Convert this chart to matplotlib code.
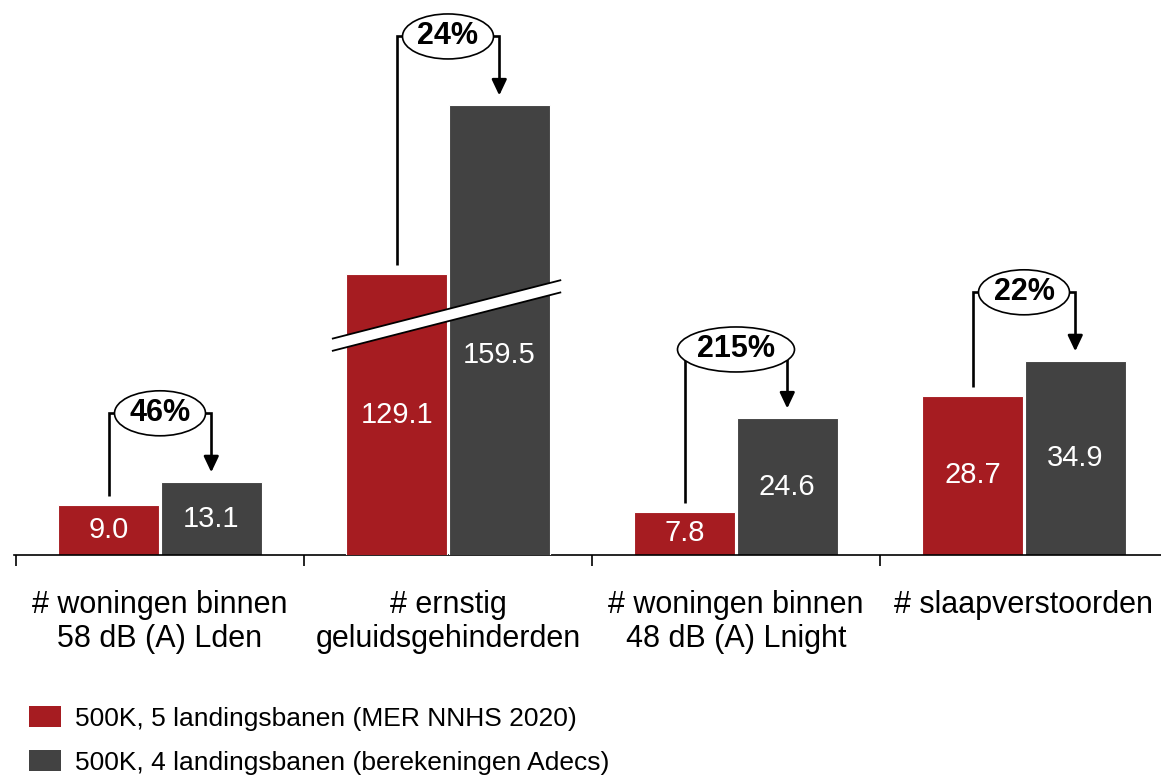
import matplotlib
matplotlib.use("Agg")
import matplotlib.pyplot as plt
import matplotlib.transforms as mtransforms
from matplotlib.patches import Ellipse, Patch, Polygon
import numpy as np

plt.rcParams['font.family'] = ['Liberation Sans', 'DejaVu Sans']

# ---------------- data ----------------
categories = ["# woningen binnen\n58 dB (A) Lden",
              "# ernstig\ngeluidsgehinderden",
              "# woningen binnen\n48 dB (A) Lnight",
              "# slaapverstoorden"]
series_names = ["500K, 5 landingsbanen (MER NNHS 2020)",
                "500K, 4 landingsbanen (berekeningen Adecs)"]
values_5 = [9.0, 129.1, 7.8, 28.7]
values_4 = [13.1, 159.5, 24.6, 34.9]
pct_labels = ["46%", "24%", "215%", "22%"]
broken_group = 1          # category drawn on a broken (offset) axis
break_offset = 78.5       # amount of axis removed by the break

# ---------------- style ----------------
RED = "#A61C21"
GREY = "#424242"
W, H, DPI = 1161, 778, 100
AX_LEFT_PX, AX_BASE_PX = 14, 555
GROUP_PX = 288.0
YSPAN = 100.0
PX = AX_BASE_PX / YSPAN          # pixels per data unit
BAR_W = 0.35
OFF = 0.178

fig = plt.figure(figsize=(W / DPI, H / DPI), dpi=DPI)
rect = [AX_LEFT_PX / W, (H - AX_BASE_PX) / H, (W - AX_LEFT_PX) / W, AX_BASE_PX / H]
ax = fig.add_axes(rect)
ax2 = fig.add_axes(rect, sharex=ax)

x = np.arange(len(categories))
xmin = (AX_LEFT_PX - 160) / GROUP_PX
xmax = xmin + (W - AX_LEFT_PX) / GROUP_PX
ax.set_xlim(xmin, xmax)
ax.set_ylim(0, YSPAN)
ax2.set_ylim(break_offset, break_offset + YSPAN)
ax2.axis("off")
ax2.patch.set_visible(False)

v5 = np.array(values_5)
v4 = np.array(values_4)
normal = np.array([i for i in range(len(categories)) if i != broken_group])
brk = np.array([broken_group])

for a, idx in ((ax, normal), (ax2, brk)):
    a.bar(x[idx] - OFF, v5[idx], BAR_W, color=RED, edgecolor="white", linewidth=0.8, zorder=2)
    a.bar(x[idx] + OFF, v4[idx], BAR_W, color=GREY, edgecolor="white", linewidth=0.8, zorder=2)

# axes styling
for s in ("top", "left", "right"):
    ax.spines[s].set_visible(False)
ax.spines["bottom"].set_linewidth(1.2)
ax.set_yticks([])
ax.set_xticks(x)
ax.set_xticklabels(categories, fontsize=22, linespacing=1.2)
ax.tick_params(axis="x", which="major", length=0, pad=25)
ax.set_xticks(x[:] - 0.5, minor=True)
ax.tick_params(axis="x", which="minor", length=8, width=1.2, direction="out")

# axis-break decoration across the broken group (drawn on top axes, main-axis coords)
bx0, bx1 = broken_group - 0.40, broken_group + 0.39
by0, by1 = 37.9, 48.4
half = 1.1
band = Polygon([(bx0, by0 - half), (bx1, by1 - half), (bx1, by1 + half), (bx0, by0 + half)],
               closed=True, facecolor="white", edgecolor="none", zorder=4,
               transform=ax.transData)
ax2.add_patch(band)
ax2.plot([bx0, bx1], [by0 - half, by1 - half], color="black", lw=1.3, zorder=5,
         transform=ax.transData)
ax2.plot([bx0, bx1], [by0 + half, by1 + half], color="black", lw=1.3, zorder=5,
         transform=ax.transData)

# value labels and change annotations
for i in range(len(categories)):
    a = ax2 if i == broken_group else ax
    base = break_offset if i == broken_group else 0.0
    r, g = v5[i], v4[i]
    a.text(x[i] - OFF, (base + r) / 2, f"{r:.1f}", color="white", fontsize=21,
           ha="center", va="center", zorder=6)
    tr = a.transData
    if i == broken_group:
        # keep the label clear of the axis break
        tr = a.transData + mtransforms.ScaledTranslation(0, -25 / DPI, fig.dpi_scale_trans)
    a.text(x[i] + OFF, (base + g) / 2, f"{g:.1f}", color="white", fontsize=21,
           ha="center", va="center", zorder=6, transform=tr)

    xl, xr = x[i] - OFF, x[i] + OFF
    y_start = r + 9 / PX
    y_b = g + 69 / PX
    y_end = g + 10 / PX
    a.plot([xl, xl, x[i]], [y_start, y_b, y_b], color="black", lw=1.9,
           solid_joinstyle="miter", solid_capstyle="butt", zorder=5, clip_on=False)
    a.plot([x[i], xr, xr], [y_b, y_b, y_end + 10 / PX], color="black", lw=1.9,
           solid_joinstyle="miter", solid_capstyle="butt", zorder=5, clip_on=False)
    a.annotate("", xy=(xr, y_end), xytext=(xr, y_end + 14 / PX),
               arrowprops=dict(arrowstyle="-|>,head_length=0.95,head_width=0.45",
                               mutation_scale=10, color="black", lw=1.9,
                               shrinkA=0, shrinkB=0), zorder=5, annotation_clip=False)
    w_px = 13 + 26 * len(pct_labels[i])
    ell = Ellipse((x[i], y_b), width=w_px / GROUP_PX, height=45 / PX,
                  facecolor="white", edgecolor="black", lw=1.2, zorder=6, clip_on=False)
    a.add_patch(ell)
    a.text(x[i], y_b, pct_labels[i], fontsize=22, fontweight="bold", color="black",
           ha="center", va="center", zorder=7, clip_on=False)

# legend
handles = [Patch(facecolor=RED, edgecolor="none"), Patch(facecolor=GREY, edgecolor="none")]
fig.legend(handles, series_names, loc="upper left",
           bbox_to_anchor=(29 / W, 1 - 706 / H), frameon=False, fontsize=19,
           handlelength=1.2, handleheight=0.87, handletextpad=0.55,
           labelspacing=0.72, borderpad=0, borderaxespad=0)

fig.savefig("out.png", dpi=DPI)
